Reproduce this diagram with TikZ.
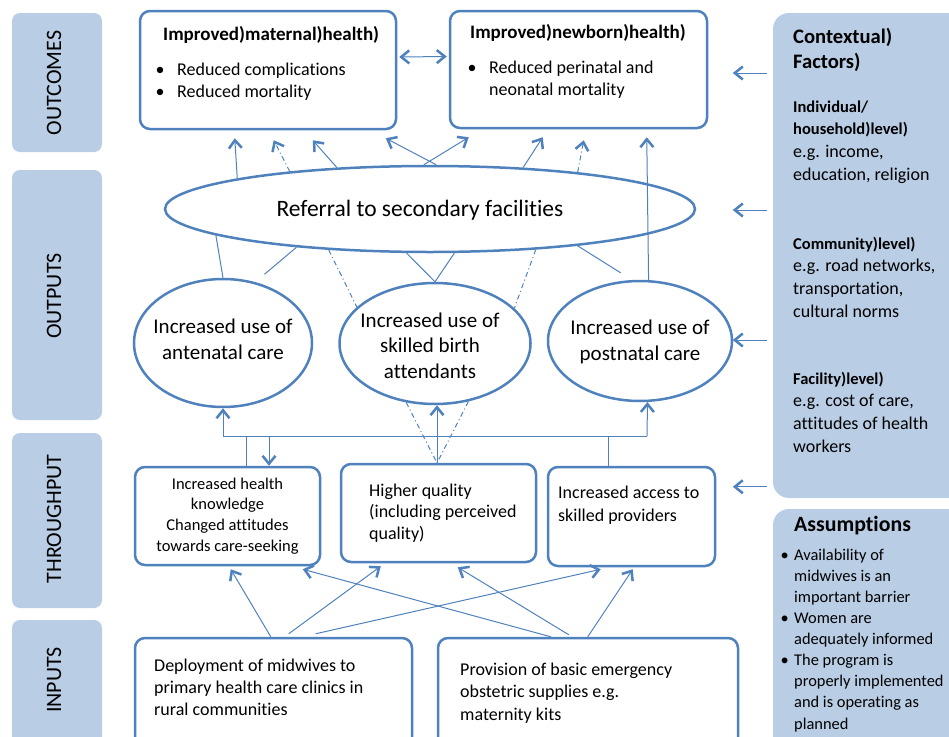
\documentclass[tikz,border=0pt]{standalone}
\usepackage{fontspec}
\setmainfont{Carlito}[Ligatures=NoCommon]
\usepackage{tikz}
\usetikzlibrary{arrows.meta}
\usetikzlibrary{calc}
\usetikzlibrary{shapes}

\definecolor{lineblue}{RGB}{79,129,189}
\definecolor{bandblue}{RGB}{185,205,229}
\newcommand{\fsBand}{\fontsize{22}{25}\selectfont}
\newcommand{\fsOval}{\fontsize{21}{25.5}\selectfont}
\newcommand{\fsRef}{\fontsize{23.5}{28}\selectfont}
\newcommand{\fsBox}{\fontsize{18}{22}\selectfont}
\newcommand{\fsSmall}{\fontsize{16.5}{20.7}\selectfont}
\newcommand{\fsSide}{\fontsize{18}{22.6}\selectfont}
\newcommand{\fsHead}{\fontsize{16.5}{22.6}\selectfont\bfseries}
\newcommand{\fsAsm}{\fontsize{16.4}{21.1}\selectfont}
\newcommand{\bul}{\llap{\textbullet\hspace{12.5pt}}}
\newcommand{\sbul}{\llap{\textbullet\hspace{5.5pt}}}

\begin{document}
\begin{tikzpicture}[x=1pt, y=-1pt,
  band/.style={fill=bandblue, rounded corners=8pt, inner sep=0pt},
  panel/.style={fill=bandblue, rounded corners=16pt, inner sep=0pt},
  blk/.style={draw=lineblue, line width=2.5pt, rounded corners=10pt, inner sep=0pt},
  oval/.style={draw=lineblue, line width=2.5pt, ellipse, inner sep=0pt},
  link/.style={draw=lineblue, line width=1pt},
  dd/.style={dash pattern=on 5pt off 3pt on 1pt off 3pt},
  arr/.style={link, -{Straight Barb[length=8pt,width=13pt,line width=2.5pt]}},
  dbl/.style={link, {Straight Barb[length=8pt,width=13pt,line width=2.5pt]}-{Straight Barb[length=8pt,width=13pt,line width=2.5pt]}},
  txt/.style={inner sep=0pt, anchor=base west, align=left},
  otxt/.style={inner sep=0pt, anchor=base, align=center, font=\fsOval},
]
\useasboundingbox (0,0) rectangle (949,736);
\clip (0,0) rectangle (949,736);

% stage bands
\node[band, minimum width=90pt, minimum height=139pt] (bOut) at (57,82.5) {};
\node[band, minimum width=90pt, minimum height=250pt] (bOutp) at (57,295) {};
\node[band, minimum width=90pt, minimum height=175pt] (bThr) at (57,520.5) {};
\node[band, minimum width=90pt, minimum height=140pt] (bIn) at (57,690) {};
\node[rotate=90, font=\fsBand, inner sep=0pt] (lOut) at (54,83) {OUTCOMES};
\node[rotate=90, font=\fsBand, inner sep=0pt] (lOutp) at (54,296) {OUTPUTS};
\node[rotate=90, font=\fsBand, inner sep=0pt] (lThr) at (54,519) {THROUGHPUT};
\node[rotate=90, font=\fsBand, inner sep=0pt] (lIn) at (54,680) {INPUTS};

% side panels (base = last line)
\node[panel, minimum width=192pt, minimum height=485pt] (ctx) at (869,255.5) {};
\node[panel, minimum width=192pt, minimum height=251pt] (asm) at (869,634.5) {};
\node[txt, font=\fontsize{20.6}{25}\selectfont\bfseries] (ctxT) at (793,68) {Contextual)\\Factors)};
\node[txt, font=\fsSide] (ctxA) at (793,180) {{\fsHead Individual/}\\ {\fsHead household)level)}\\ e.g. income,\\ education, religion};
\node[txt, font=\fsSide] (ctxB) at (793,317) {{\fsHead Community)level)}\\ e.g. road networks,\\ transportation,\\ cultural norms};
\node[txt, font=\fsSide] (ctxC) at (793,452) {{\fsHead Facility)level)}\\ e.g. cost of care,\\ attitudes of health\\ workers};
\node[txt, font=\fontsize{21.8}{26}\selectfont\bfseries] (asmT) at (794,531) {Assumptions};
\node[txt, font=\fsAsm] (asmL) at (794,729) {\sbul Availability of\\ midwives is an\\ important barrier\\ \sbul Women are\\ adequately informed\\ \sbul The program is\\ properly implemented\\ and is operating as\\ planned};

% outcomes
\node[blk, minimum width=256pt, minimum height=118pt] (mat) at (268,70) {};
\node[blk, minimum width=257pt, minimum height=117pt] (new) at (578.5,69.5) {};
\node[txt, font=\fontsize{19}{22}\selectfont\bfseries] (matT) at (163,40) {Improved)maternal)health)};
\node[txt, font=\fsBox] (matL) at (177,97) {\bul Reduced complications\\ \bul Reduced mortality};
\node[txt, font=\fontsize{19}{22}\selectfont\bfseries] (newT) at (470,38) {Improved)newborn)health)};
\node[txt, font=\fsBox] (newL) at (489,95) {\bul Reduced perinatal and\\ neonatal mortality};
\draw[dbl] ($(mat.east)+(2,-13)$) -- ($(new.west)+(-2,-13)$);

% outputs
\node[oval, minimum width=530pt, minimum height=86pt] (ref) at (430,209) {};
\node[inner sep=0pt, anchor=base, font=\fsRef] (refT) at (420,216.5) {Referral to secondary facilities};
\node[oval, minimum width=178pt, minimum height=128pt] (ante) at (223,343) {};
\node[oval, minimum width=191pt, minimum height=121pt] (skill) at (435,343.5) {};
\node[oval, minimum width=184pt, minimum height=120pt] (post) at (640,341) {};
\node[otxt] (anteT) at (223,359) {Increased use of\\antenatal care};
\node[otxt] (skillT) at (430,378) {Increased use of\\skilled birth\\attendants};
\node[otxt] (postT) at (640,360) {Increased use of\\postnatal care};

% referral to outcomes
\draw[arr] (ref.171.6) -- ($(mat.south west)+(96,8)$);
\draw[arr, dd] (ref.165.7) -- ($(mat.south west)+(135,10)$);
\draw[arr] (ref.156.6) -- ($(mat.south west)+(174,10)$);
\draw[arr] (ref.82) -- ($(mat.south west)+(247,8)$);
\draw[arr] (ref.98) -- ($(new.south west)+(20,8)$);
\draw[arr] (ref.24.5) -- ($(new.south west)+(94,8)$);
\draw[arr, dd] (ref.14.2) -- ($(new.south west)+(135,11)$);
\draw[arr] (post.82.4) -- ($(new.south west)+(198,8)$);

% outputs to referral
\draw[link] (ante.north) -- (ref.187.7);
\draw[link] (ref.196.9) -- +(-32,27);
\draw[link, dd] (ref.202) -- (skill.155.4);
\draw[link] (ref.242.8) -- (skill.north) -- (ref.299.3);
\draw[link, dd] (ref.339.4) -- (skill.24.6);
\draw[link] (ref.346.1) -- +(43,27);

% throughput
\node[blk, minimum width=185pt, minimum height=98pt, align=center, font=\fsSmall] (know) at (227.5,516) {Increased health\\ knowledge\\ Changed attitudes\\ towards care-seeking};
\node[blk, minimum width=195pt, minimum height=98pt] (qual) at (438.5,513) {};
\node[blk, minimum width=167pt, minimum height=99pt] (acc) at (631.5,516.5) {};
\node[txt, font=\fontsize{18}{21.5}\selectfont] (qualT) at (369,539) {Higher quality\\ (including perceived\\ quality)};
\node[txt, font=\fontsize{18}{23}\selectfont] (accT) at (558,521) {Increased access to\\ skilled providers};

% throughput to outputs
\coordinate (fbL) at (223,436);
\coordinate (fbR) at (647,436);
\coordinate (fbK) at (246,436);
\coordinate (fbD) at (269,436);
\coordinate (fbA) at (608,436);
\coordinate (qTop) at (437,463);
\draw[link] (fbL) -- (fbR);
\draw[arr] (fbL) -- (ante.south);
\draw[arr] (fbR) -- (post.277.6);
\draw[link] (know.north -| fbK) -- (fbK);
\draw[arr] (fbD) -- (know.north -| fbD);
\draw[link] (acc.north -| fbA) -- (fbA);
\draw[arr] (qTop) -- (skill.south -| qTop);
\draw[link, dd] (skill.244) -- (qTop) -- (skill.300.4);

% inputs
\node[blk, minimum width=277pt, minimum height=122pt] (dep) at (273.5,699) {};
\node[blk, minimum width=300pt, minimum height=122pt] (prov) at (588,699) {};
\node[txt, font=\fsBox] (depT) at (154,715) {Deployment of midwives to\\ primary health care clinics in\\ rural communities};
\node[txt, font=\fontsize{18}{22.5}\selectfont] (provT) at (460,720) {Provision of basic emergency\\ obstetric supplies e.g.\\ maternity kits};

% inputs to throughput
\draw[arr] ($(dep.north west)+(137,0)$) -- ($(know.south west)+(97,3)$);
\draw[arr] ($(dep.north west)+(155,-3)$) -- ($(qual.south west)+(41,3)$);
\draw[arr] ($(dep.north west)+(182,-3)$) -- ($(acc.south west)+(54,2)$);
\draw[arr] ($(prov.north west)+(114,0)$) -- ($(know.south west)+(169,3)$);
\draw[arr] ($(prov.north west)+(132,-2)$) -- ($(qual.south west)+(118,4)$);
\draw[arr] ($(prov.north west)+(151,0)$) -- ($(acc.south west)+(86,2)$);

% context
\draw[arr] ($(ctx.west |- new.east)+(-6,3.5)$) -- +(-34,0);
\draw[arr] ($(ctx.west |- ref.east)+(-6,1)$) -- +(-34,0);
\draw[arr] ($(ctx.west |- post.east)+(-6,-1)$) -- +(-34,0);
\draw[arr] ($(ctx.west |- acc.north)+(-6,21)$) -- +(-34,0);
\end{tikzpicture}
\end{document}
